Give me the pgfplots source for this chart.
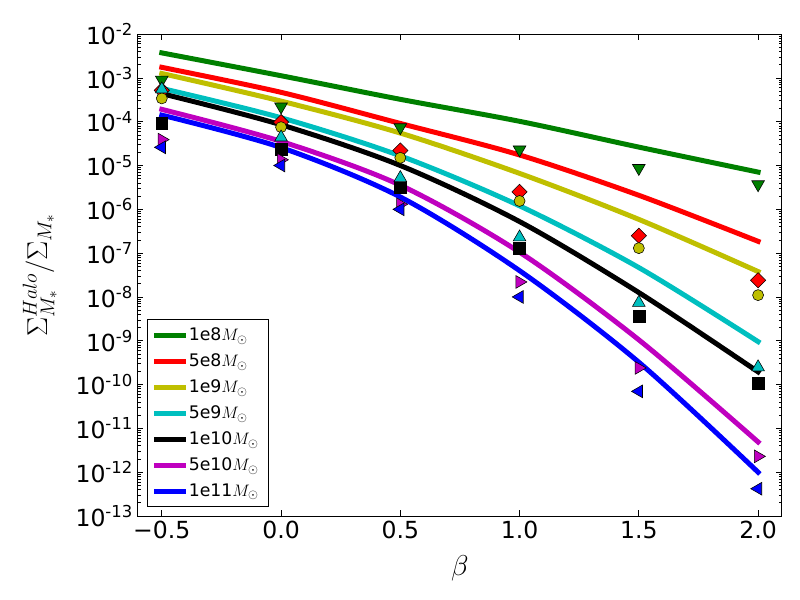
\documentclass[border=0pt]{standalone}
\usepackage{fontspec}
\setmainfont{DejaVu Sans}
\usepackage{pgfplots}
\pgfplotsset{compat=1.18}

\definecolor{mgreen}{rgb}{0,0.5,0}
\definecolor{mred}{rgb}{1,0,0}
\definecolor{myellow}{rgb}{0.75,0.75,0}
\definecolor{mcyan}{rgb}{0,0.75,0.75}
\definecolor{mmag}{rgb}{0.75,0,0.75}
\definecolor{mblue}{rgb}{0,0,1}

\pgfplotsset{
  curve/.style={line width=3.6pt, line cap=rect, smooth, no marks, #1},
  pts/.style n args={4}{only marks, forget plot, mark=#1, mark size=#2,
     mark options={draw=black, fill=#3, line width=0.4pt, rotate=#4}},
}

\begin{document}
\begin{tikzpicture}
\path[use as bounding box] (0,0) rectangle (578.16pt,433.62pt);
\begin{axis}[
  at={(99.7pt,60.7pt)}, anchor=south west,
  scale only axis, width=465.4pt, height=348.3pt,
  ymode=log, xmin=-0.6, xmax=2.1, ymin=1e-13, ymax=1e-2,
  ytickten={-13,...,-2},
  yticklabels={10\textsuperscript{-13},10\textsuperscript{-12},10\textsuperscript{-11},10\textsuperscript{-10},10\textsuperscript{-9},10\textsuperscript{-8},10\textsuperscript{-7},10\textsuperscript{-6},10\textsuperscript{-5},10\textsuperscript{-4},10\textsuperscript{-3},10\textsuperscript{-2}},
  xtick={-0.5,0,0.5,1,1.5,2},
  xticklabels={−0.5,0.0,0.5,1.0,1.5,2.0},
  tick label style={font=\fontsize{17}{20}\selectfont},
  major tick length=4pt, minor tick length=2pt,
  tick style={black, line width=0.5pt},
  tick align=inside,
  axis line style={line width=0.7pt},
  xlabel={$\beta$},
  ylabel={$\Sigma^{Halo}_{M_*}/\Sigma_{M_*}$},
  every axis x label/.style={at={(axis description cs:0.5,-0.108)}, anchor=center, font=\fontsize{22}{26}\selectfont},
  every axis y label/.style={at={(axis description cs:-0.152,0.5)}, rotate=90, anchor=center, font=\fontsize{22}{26}\selectfont},
  legend cell align=left,
  legend image code/.code={\draw[#1] (0pt,0pt) -- (19.5pt,0pt);},
  legend style={at={(rel axis cs:0.0135,0.018)}, anchor=south west,
     draw=black, line width=0.7pt, fill=white,
     font=\fontsize{12.5}{15}\selectfont, row sep=4pt, inner xsep=5pt, inner ysep=4pt},
]
% 1e8
\addplot[pts={triangle*}{5.3pt}{mgreen}{180}] coordinates {(-0.5,9e-4) (0,2.2e-4) (0.5,7.4e-5) (1,2.3e-5) (1.5,8.7e-6) (2,3.7e-6)};
\addplot[curve={mgreen}] coordinates {(-0.5,3.72e-3) (0,1.12e-3) (0.5,3.24e-4) (1,1.02e-4) (1.5,2.63e-5) (2,7.08e-6)};
\addlegendentry{1e8$M_\odot$}
% 5e8
\addplot[pts={square*}{3.9pt}{mred}{45}] coordinates {(-0.5,5.2e-4) (0,9.8e-5) (0.5,2.2e-5) (1,2.5e-6) (1.5,2.5e-7) (2,2.4e-8)};
\addplot[curve={mred}] coordinates {(-0.5,1.74e-3) (0,4.68e-4) (0.5,9.12e-5) (1,1.74e-5) (1.5,2.09e-6) (2,1.86e-7)};
\addlegendentry{5e8$M_\odot$}
% 1e9
\addplot[pts={*}{4pt}{myellow}{0}] coordinates {(-0.5,3.4e-4) (0,7.5e-5) (0.5,1.5e-5) (1,1.55e-6) (1.5,1.3e-7) (2,1.1e-8)};
\addplot[curve={myellow}] coordinates {(-0.5,1.26e-3) (0,2.95e-4) (0.5,5.5e-5) (1,6.61e-6) (1.5,5.89e-7) (2,3.8e-8)};
\addlegendentry{1e9$M_\odot$}
% 5e9
\addplot[pts={triangle*}{5.3pt}{mcyan}{0}] coordinates {(-0.5,5.5e-4) (0,4.4e-5) (0.5,5.2e-6) (1,2.3e-7) (1.5,7.4e-9) (2,2.5e-10)};
\addplot[curve={mcyan}] coordinates {(-0.5,5.75e-4) (0,1.23e-4) (0.5,1.66e-5) (1,1.2e-6) (1.5,4.68e-8) (2,9.55e-10)};
\addlegendentry{5e9$M_\odot$}
% 1e10
\addplot[pts={square*}{4.3pt}{black}{0}] coordinates {(-0.5,9.3e-5) (0,2.3e-5) (0.5,3.1e-6) (1,1.3e-7) (1.5,3.7e-9) (2,1.05e-10)};
\addplot[curve={black}] coordinates {(-0.5,4.37e-4) (0,8.51e-5) (0.5,1.0e-5) (1,5.25e-7) (1.5,1.26e-8) (2,1.95e-10)};
\addlegendentry{1e10$M_\odot$}
% 5e10
\addplot[pts={triangle*}{5.3pt}{mmag}{-90}] coordinates {(-0.5,3.9e-5) (0,1.35e-5) (0.5,1.3e-6) (1,2.2e-8) (1.5,2.4e-10) (2,2.3e-12)};
\addplot[curve={mmag}] coordinates {(-0.5,1.91e-4) (0,3.55e-5) (0.5,3.55e-6) (1,1.05e-7) (1.5,1.05e-9) (2,4.9e-12)};
\addlegendentry{5e10$M_\odot$}
% 1e11
\addplot[pts={triangle*}{5.3pt}{mblue}{90}] coordinates {(-0.5,2.6e-5) (0,1.0e-5) (0.5,1.0e-6) (1,1.0e-8) (1.5,7e-11) (2,4.2e-13)};
\addplot[curve={mblue}] coordinates {(-0.5,1.41e-4) (0,2.57e-5) (0.5,1.91e-6) (1,3.98e-8) (1.5,3.24e-10) (2,1.0e-12)};
\addlegendentry{1e11$M_\odot$}
\end{axis}
\end{tikzpicture}
\end{document}
